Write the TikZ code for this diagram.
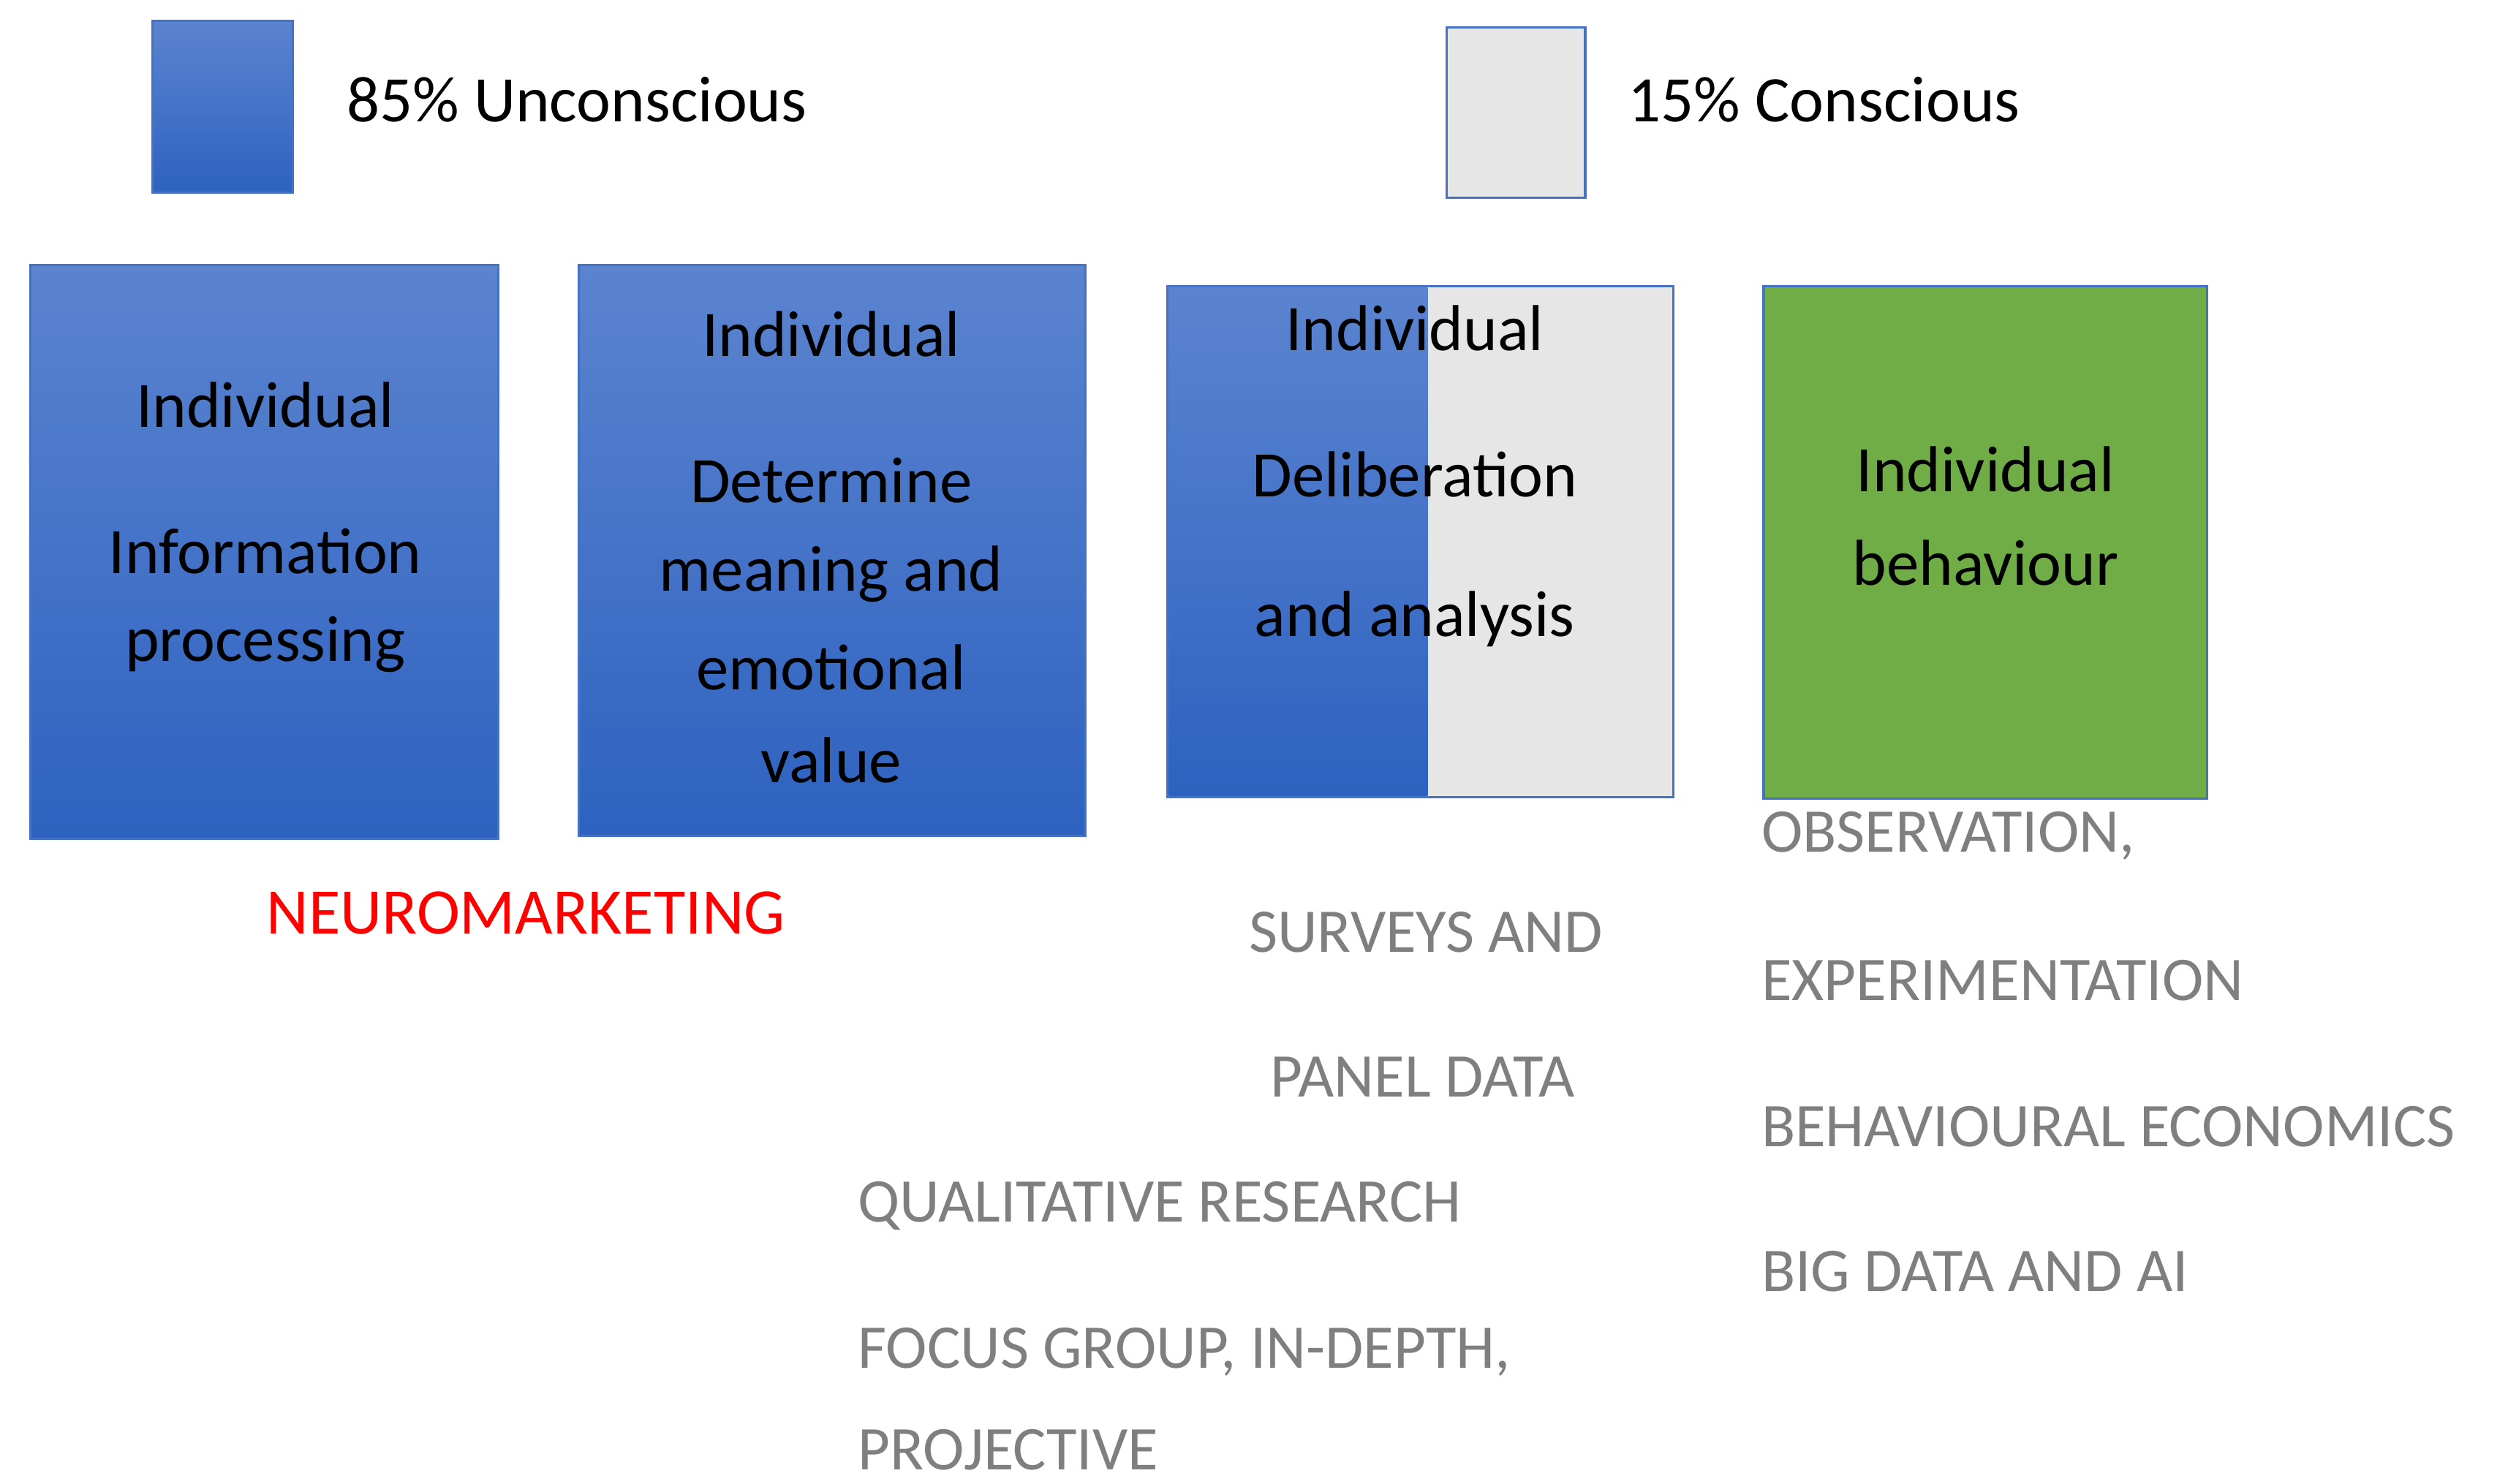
\documentclass[tikz,border=0pt]{standalone}
\usepackage{fontspec}
\setmainfont{Carlito}
\usetikzlibrary{positioning}
\definecolor{bluetop}{HTML}{5B84CF}
\definecolor{bluebot}{HTML}{2E62C0}
\definecolor{blueedge}{HTML}{4472C4}
\definecolor{lightgray}{HTML}{E6E6E6}
\definecolor{leafgreen}{HTML}{70AD47}
\definecolor{labelgray}{HTML}{7F7F7F}
\tikzset{
	bluebox/.style={draw=blueedge,top color=bluetop,bottom color=bluebot},
	graybox/.style={draw=blueedge,fill=lightgray},
	greenbox/.style={draw=blueedge,fill=leafgreen},
	txt/.style={font=\fontsize{11.5}{13}\selectfont,inner sep=0pt},
	method/.style={font=\fontsize{11}{13}\selectfont,text=labelgray,inner sep=0pt,anchor=west}
}
\begin{document}
\begin{tikzpicture}[x=0.01cm,y=-0.01cm]
\useasboundingbox (0,0) rectangle (1560,923);

% legend
\draw[bluebox] (95,13) rectangle (182,120);
\node[txt,anchor=west] (uncons) at (215,62) {85\% Unconscious};
\draw[graybox] (900,17) rectangle (986,123);
\node[txt,anchor=west] (cons) at (1012,62) {15\% Conscious};

% boxes
\draw[bluebox] (19,165) rectangle (310,522);
\draw[bluebox] (360,165) rectangle (675,520);
\draw[graybox] (726,178) rectangle (1041,496);
\draw[draw=none,top color=bluetop,bottom color=bluebot] (727,179) rectangle (888,495);
\draw[blueedge] (726,178) rectangle (1041,496);
\draw[greenbox] (1097,178) rectangle (1373,497);

\foreach[count=\c] \x/\y/\t in {165/252/Individual,165/343/Information,165/401/processing,
	517/208/Individual,517/299/Determine,517/357/meaning and,517/415/emotional,517/473/value,
	880/204/Individual,880/295/Deliberation,880/385/and analysis,
	1235/292/Individual,1235/350/behaviour}
	\node[txt] (line\c) at (\x,\y) {\t};

% methods
\node[txt,text=red] (neuro) at (327,568) {NEUROMARKETING};
\node[method,anchor=center] (surveys) at (887,580) {SURVEYS AND};
\node[method,anchor=center] (panel) at (885,670) {PANEL DATA};
\node[method] (quali) at (533,750) {QUALITATIVE RESEARCH};
\node[method] (focus) at (533,841) {FOCUS GROUP, IN-DEPTH,};
\node[method] (proj) at (533,902) {PROJECTIVE};
\node[method] (obs) at (1095,520) {OBSERVATION,};
\node[method] (exper) at (1095,610) {EXPERIMENTATION};
\node[method] (behav) at (1095,701) {BEHAVIOURAL ECONOMICS};
\node[method] (bigdata) at (1095,791) {BIG DATA AND AI};
\end{tikzpicture}
\end{document}
